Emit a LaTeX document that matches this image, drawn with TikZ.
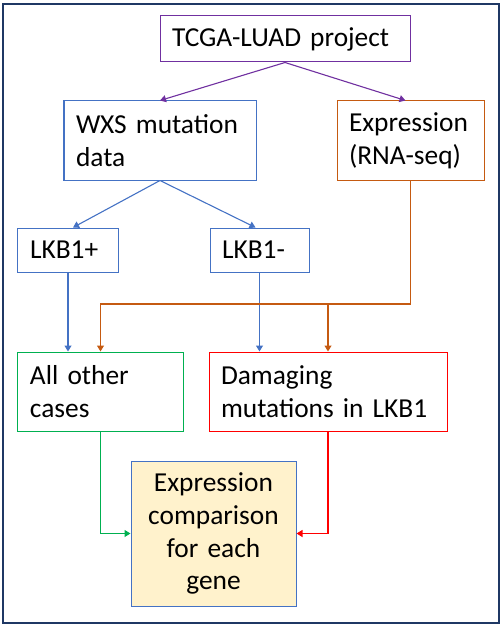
\documentclass[tikz,border=0pt]{standalone}
\usepackage{fontspec}
\setmainfont{Carlito}
\usetikzlibrary{arrows.meta}

\definecolor{framenavy}{HTML}{1F3864}
\definecolor{projpurple}{HTML}{7030A0}
\definecolor{mutblue}{HTML}{4472C4}
\definecolor{exporange}{HTML}{C55A11}
\definecolor{casegreen}{HTML}{00B050}
\definecolor{damred}{HTML}{FF0000}
\definecolor{cmpfill}{HTML}{FFF2CC}

\begin{document}
\begin{tikzpicture}[x=1bp, y=-1bp,
    box/.style={draw, line width=1bp, align=left, inner xsep=12bp, inner ysep=0bp,
        font=\fontsize{27.5}{33}\selectfont},
    flow/.style={line width=1.1bp, -{Triangle[length=6bp, width=7bp]}}]
    \useasboundingbox (0,0) rectangle (503,627);

    % Outer frame
    \draw[framenavy, line width=2.5bp] (3,4) rectangle (499,623);

    % Data source
    \node[box, draw=projpurple, minimum width=250bp, minimum height=46bp, text width=226bp] (tcga) at (285,39) {TCGA-LUAD project};

    % Two data types
    \node[box, draw=mutblue, minimum width=192bp, minimum height=79bp, text width=168bp] (wxs) at (160,140.5) {WXS mutation\\data};
    \node[box, draw=exporange, minimum width=147bp, minimum height=79bp, text width=123bp] (expr) at (410.5,140.5) {Expression\\(RNA-seq)};

    % Mutation status
    \node[box, draw=mutblue, minimum width=100bp, minimum height=44bp, text width=76bp] (lkbpos) at (68,250) {LKB1+};
    \node[box, draw=mutblue, minimum width=99bp, minimum height=44bp, text width=75bp] (lkbneg) at (259.5,250) {LKB1-};

    % Groups
    \node[box, draw=casegreen, minimum width=165bp, minimum height=79bp, text width=141bp] (allother) at (100.5,391.5) {All other\\cases};
    \node[box, draw=damred, minimum width=238bp, minimum height=79bp, text width=214bp] (damaging) at (328,391.5) {Damaging\\mutations in LKB1};

    % Result
    \node[box, draw=mutblue, fill=cmpfill, align=center, minimum width=165bp, minimum height=145bp, text width=141bp] (compare) at (213.5,533.5) {Expression\\comparison\\for each\\gene};

    % Arrows
    \draw[flow, projpurple] (tcga.south) -- (wxs.north);
    \draw[flow, projpurple] (tcga.south) -- ([xshift=-5bp]expr.north);
    \draw[flow, mutblue] (wxs.south) -- ([xshift=5bp]lkbpos.north);
    \draw[flow, mutblue] (wxs.south) -- ([xshift=-4bp]lkbneg.north);
    \draw[flow, mutblue] (lkbpos.south) -- (lkbpos.south |- allother.north);
    \draw[flow, mutblue] (lkbneg.south) -- (lkbneg.south |- damaging.north);

    \coordinate (split) at (328,304);
    \draw[flow, exporange] (expr.south) |- (split) -| (allother.north);
    \draw[flow, exporange] (split) -- (damaging.north);

    \draw[flow, casegreen] (allother.south) |- (compare.west);
    \draw[flow, damred] (damaging.south) |- (compare.east);
\end{tikzpicture}
\end{document}
